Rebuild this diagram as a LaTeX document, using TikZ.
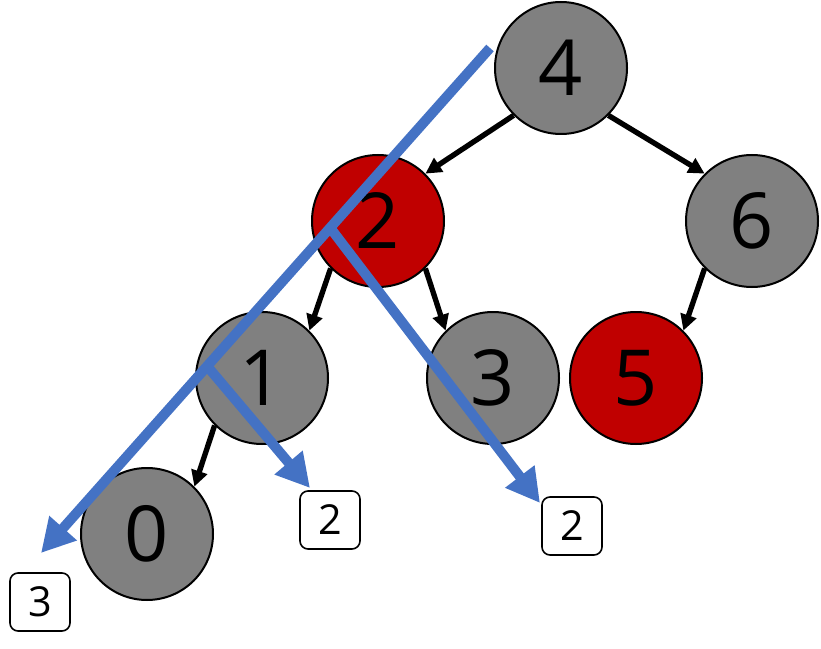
\documentclass[tikz,border=0pt]{standalone}
\usepackage{fontspec}
\setmainfont{Open Sans}
\usetikzlibrary{positioning, calc, arrows.meta}
\definecolor{nodegray}{HTML}{808080}
\definecolor{nodered}{HTML}{C00000}
\definecolor{traceblue}{HTML}{4472C4}

\begin{document}
\begin{tikzpicture}[x=0.75pt, y=-0.75pt,
        vertex/.style={circle, draw, line width=1.5pt, fill=nodegray, minimum size=99pt, inner sep=0pt, font=\fontsize{58}{62}\selectfont},
        hit/.style={vertex, fill=nodered},
        count/.style={rectangle, draw, line width=1.2pt, rounded corners=6pt, fill=white, minimum width=45pt, minimum height=43.5pt, inner sep=0pt, font=\fontsize{31}{34}\selectfont},
        link/.style={line width=4pt, -{Triangle[length=12pt, width=12pt]}},
        trace/.style={line width=7.5pt, traceblue, -{Triangle[length=25pt, width=26pt]}}]
                \useasboundingbox (0,0) rectangle (821,649);

                \node[vertex] (n4) at (561,68) {4};
                \node[hit] (n2) at (378,221) {2};
                \node[vertex] (n6) at (752,221) {6};
                \node[vertex] (n1) at (262,378) {1};
                \node[vertex] (n3) at (493,378) {3};
                \node[hit] (n5) at (636,378) {5};
                \node[vertex] (n0) at (147,534) {0};

                \foreach \i/\j/\a/\b in {n4/n2/225/45, n4/n6/315/135, n2/n1/225/45, n2/n3/315/135, n6/n5/225/45, n1/n0/225/45} {
                        \draw[link] (\i.\a) -- (\j.\b);
                }

                \node[count] (c3) at (40,602) {3};
                \node[count] (c2a) at (330,520) {2};
                \node[count] (c2b) at (572,526) {2};

                % search path with the counts it collects
                \coordinate (start) at (490,48);
                \coordinate (tip3) at (41,553);
                \coordinate (tip2a) at (310,488);
                \coordinate (tip2b) at (540,503);
                \draw[trace] (start) -- (tip3);
                \draw[trace] ($(start)!0.356!(tip3)$) -- (tip2b);
                \draw[trace] ($(start)!0.63!(tip3)$) -- (tip2a);
        \end{tikzpicture}
\end{document}
